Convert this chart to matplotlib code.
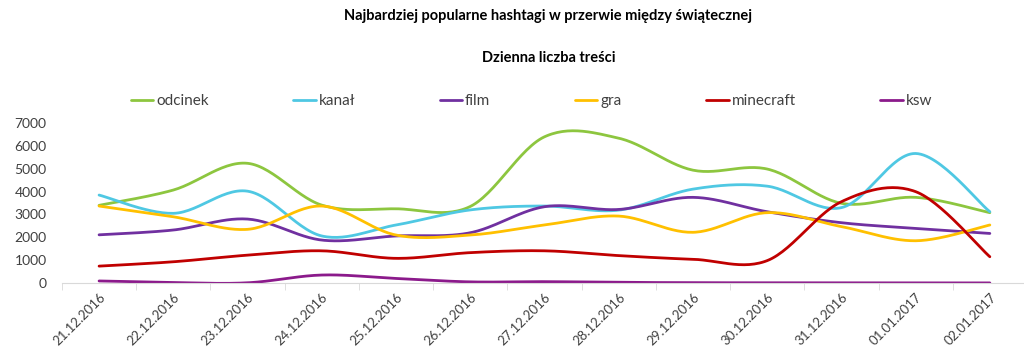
import numpy as np
import matplotlib
matplotlib.use("Agg")
import matplotlib.pyplot as plt

plt.rcParams['font.family'] = ['Lato', 'DejaVu Sans']

# data
dates = ["21.12.2016", "22.12.2016", "23.12.2016", "24.12.2016", "25.12.2016",
         "26.12.2016", "27.12.2016", "28.12.2016", "29.12.2016", "30.12.2016",
         "31.12.2016", "01.01.2017", "02.01.2017"]
odcinek = [3400, 4070, 5240, 3410, 3250, 3350, 6400, 6340, 4940, 4990, 3490, 3750, 3080]
kanal = [3850, 3050, 4020, 2060, 2540, 3200, 3370, 3190, 4110, 4240, 3300, 5670, 3120]
film = [2110, 2320, 2800, 1880, 2060, 2200, 3340, 3220, 3750, 3120, 2640, 2390, 2170]
gra = [3370, 2900, 2350, 3370, 2100, 2100, 2540, 2930, 2220, 3080, 2470, 1850, 2540]
minecraft = [740, 930, 1220, 1410, 1080, 1330, 1410, 1200, 1040, 980, 3560, 4000, 1150]
ksw = [90, 20, 10, 350, 200, 50, 60, 30, 15, 10, 5, 5, 5]

series = [("odcinek", odcinek, "#8DC63F"),
          ("kanał", kanal, "#4FC8E3"),
          ("film", film, "#7030A0"),
          ("gra", gra, "#FFC000"),
          ("minecraft", minecraft, "#C00000"),
          ("ksw", ksw, "#8B1A8B")]


def smooth(y, n=30):
    # Catmull-Rom like Excel's smoothed line
    y = np.asarray(y, dtype=float)
    x = np.arange(len(y), dtype=float)
    xs, ys = [], []
    for i in range(len(y) - 1):
        p0 = np.array([x[max(i - 1, 0)], y[max(i - 1, 0)]])
        p1 = np.array([x[i], y[i]])
        p2 = np.array([x[i + 1], y[i + 1]])
        p3 = np.array([x[min(i + 2, len(y) - 1)], y[min(i + 2, len(y) - 1)]])
        c1 = p1 + (p2 - p0) / 6
        c2 = p2 - (p3 - p1) / 6
        t = np.linspace(0, 1, n)[:, None]
        pts = ((1 - t) ** 3) * p1 + 3 * ((1 - t) ** 2) * t * c1 + 3 * (1 - t) * t ** 2 * c2 + t ** 3 * p2
        xs.extend(pts[:, 0])
        ys.extend(pts[:, 1])
    return xs, ys


fig = plt.figure(figsize=(10.24, 3.61), dpi=100)
ax = fig.add_axes([0.0605, 0.216, 0.9424, 0.443])

for name, vals, col in series:
    sx, sy = smooth(vals)
    ax.plot(sx, sy, color=col, lw=2.0, label=name, solid_capstyle='round')

ax.set_xlim(-0.5, len(dates) - 0.5)
ax.set_ylim(0, 7000)
ax.set_yticks(range(0, 7001, 1000))
ax.tick_params(axis='y', length=0, labelsize=10, colors='#404040', pad=11)

ax.set_xticks(range(len(dates)))
ax.set_xticklabels(dates, rotation=45, ha='right', va='top', rotation_mode='anchor',
                   fontsize=9.5, color='#404040')
ax.tick_params(axis='x', which='major', length=0, pad=6)
ax.set_xticks(np.arange(-0.5, len(dates), 1), minor=True)
ax.tick_params(axis='x', which='minor', length=5, color='#D9D9D9')

for s in ['top', 'right', 'left']:
    ax.spines[s].set_visible(False)
ax.spines['bottom'].set_color('#D9D9D9')

fig.text(0.535, 0.955, "Najbardziej popularne hashtagi w przerwie między świątecznej",
         ha='center', va='center', fontsize=10.5, fontweight='bold', color='black')
fig.text(0.536, 0.84, "Dzienna liczba treści",
         ha='center', va='center', fontsize=10.5, fontweight='bold', color='black')

leg = fig.legend(loc='center', bbox_to_anchor=(0.519, 0.72), ncol=6, frameon=False,
                 fontsize=11, handlelength=1.45, handletextpad=0.2, columnspacing=5.55)
for t in leg.get_texts():
    t.set_color('#404040')

fig.savefig("out.png", dpi=100)
